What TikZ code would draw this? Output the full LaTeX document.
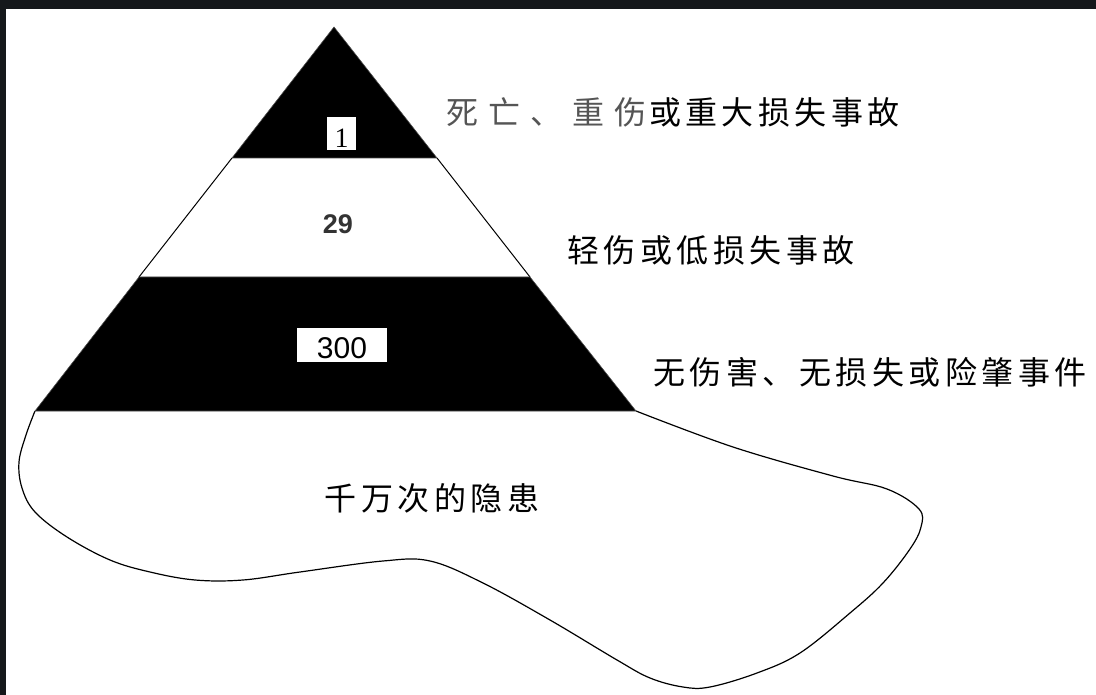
\documentclass[tikz,border=0pt]{standalone}
\usepackage{fontspec}
\usetikzlibrary{positioning}
\newfontfamily\cjk[LetterSpace=14]{Noto Sans CJK SC}
\newfontfamily\arialfont{Liberation Sans}
\newfontfamily\romanfont{Liberation Serif}
\definecolor{frame}{HTML}{15181B}
\definecolor{dimtext}{HTML}{555555}
\definecolor{numtext}{HTML}{333333}

\begin{document}
\begin{tikzpicture}[
    x=1pt, y=-1pt,
    band/.style={fill=black, draw=black!70, line width=0.6pt},
    side/.style={draw=black, line width=1pt},
    outline/.style={draw=black, fill=white, line width=1.2pt},
    numbox/.style={fill=white, inner sep=0, text height=31pt},
    caption/.style={inner sep=0, font=\cjk\fontsize{32}{36}\selectfont}
  ]
  \useasboundingbox (0,0) rectangle (1096,695);
  \fill[white] (0,0) rectangle (1096,695);
  \fill[frame] (0,0) rectangle (1096,9);
  \fill[frame] (0,0) rectangle (6,695);

  % pyramid corners
  \coordinate (apex) at (334,27);
  \coordinate (l1) at (232,158);
  \coordinate (r1) at (437,158);
  \coordinate (l2) at (139,277);
  \coordinate (r2) at (530,277);
  \coordinate (l3) at (35,411);
  \coordinate (r3) at (636,411);

  % hidden dangers
  \draw[outline] plot[smooth, tension=0.6] coordinates {
    (l3) (26,435) (19,462) (22,488) (35,512) (67,537) (110,560) (150,572)
    (195,580) (243,580) (300,572) (383,561) (430,561) (483,583) (550,620)
    (617,660) (650,678) (683,687) (710,687) (757,673) (800,653) (850,613)
    (883,583) (910,549) (921,527) (919,509) (887,489) (833,476) (733,447) (r3)};

  \draw[band] (apex) -- (r1) -- (l1) -- cycle;
  \draw[side] (l1) -- (l2);
  \draw[side] (r1) -- (r2);
  \draw[band] (l2) -- (r2) -- (r3) -- (l3) -- cycle;

  \node[numbox, minimum width=29pt, text depth=2pt, font=\romanfont\fontsize{28}{30}\selectfont]
    (one) at (341.5,133.5) {1};
  \node[inner sep=0, text=numtext, font=\arialfont\bfseries\fontsize{27}{30}\selectfont]
    (twentynine) at (338,224) {29};
  \node[numbox, minimum width=90pt, text depth=3pt, font=\arialfont\fontsize{30}{34}\selectfont]
    (threehundred) at (342,345) {300};

  \node[caption] (major) at (673,112)
    {\textcolor{dimtext}{死\hspace{10pt}亡\hspace{10pt}、\hspace{10pt}重\hspace{10pt}伤}\hspace{3pt}或重大损失事故};
  \node[caption] (minor) at (711,250) {轻伤或低损失事故};
  \node[caption] (nearmiss) at (870,372) {无伤害、无损失或险肇事件};
  \node[caption] (hazards) at (432,498) {千万次的隐患};
\end{tikzpicture}
\end{document}
